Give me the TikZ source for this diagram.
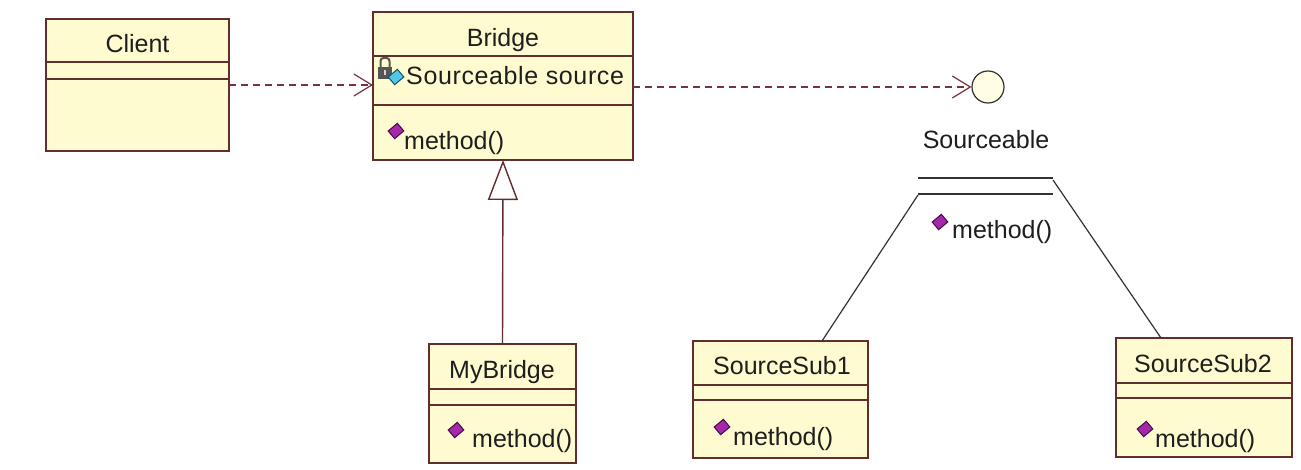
\documentclass[tikz,border=0pt]{standalone}
\usepackage{fontspec}
\setmainfont{Liberation Sans}
\newfontfamily\spacedfont[LetterSpace=2.5]{Liberation Sans}
\usetikzlibrary{arrows.meta}
\definecolor{boxfill}{RGB}{255,251,208}
\definecolor{boxline}{RGB}{100,45,45}
\definecolor{depline}{RGB}{120,50,60}
\definecolor{opfill}{RGB}{165,40,170}
\definecolor{opline}{RGB}{70,10,70}
\definecolor{attrfill}{RGB}{80,200,230}
\definecolor{attrline}{RGB}{20,80,110}
\definecolor{lockgray}{RGB}{85,85,85}
\definecolor{txt}{RGB}{30,30,30}
\definecolor{ifline}{RGB}{50,50,50}
\tikzset{
  cls/.style={draw=boxline, fill=boxfill, line width=1.4pt, inner sep=0pt, outer sep=0pt, anchor=north west},
  sep/.style={draw=boxline, line width=1.4pt},
  lbl/.style={font=\fontsize{25}{30}\selectfont, text=txt, inner sep=0pt, anchor=base},
  oplbl/.style={lbl, anchor=base west},
  dep/.style={draw=depline, line width=1.3pt, dash pattern=on 7pt off 5pt,
    -{Straight Barb[length=18pt,width=22pt,line width=1.2pt]}},
  gen/.style={draw=boxline, line width=1.4pt,
    -{Triangle[open, length=40pt, width=30pt, fill=white, line width=1.4pt]}},
  real/.style={draw=ifline, line width=1.2pt},
  pics/opicon/.style={code={
    \draw[draw=opline, fill=opfill, line width=1pt, rotate=40] (-6,-5) rectangle (6,5);}},
  pics/attricon/.style={code={
    \draw[draw=attrline, fill=attrfill, line width=1pt, rotate=40] (-6,-5) rectangle (6,5);}},
  pics/lockicon/.style={code={
    \draw[lockgray, line width=2pt, rounded corners=3pt] (-4.5,1) -- (-4.5,-9) -- (4.5,-9) -- (4.5,1);
    \fill[lockgray] (-7,0) rectangle (7,12);
    \fill[white!75!lockgray] (-1.2,3) rectangle (1.2,8);}},
}
\begin{document}
\begin{tikzpicture}[x=1pt,y=-1pt]
\useasboundingbox[fill=white] (0,0) rectangle (1301,470);

% class boxes
\node[cls, minimum width=183pt, minimum height=132pt] (client) at (46,19) {};
\node[cls, minimum width=260pt, minimum height=148pt] (bridge) at (373,12) {};
\node[cls, minimum width=147pt, minimum height=119pt] (mybridge) at (429,344) {};
\node[cls, minimum width=175pt, minimum height=117pt] (ss1) at (693,341) {};
\node[cls, minimum width=176pt, minimum height=119pt] (ss2) at (1116,338) {};

% compartments
\draw[sep] (client.west |- 0,62) -- (client.east |- 0,62);
\draw[sep] (client.west |- 0,79) -- (client.east |- 0,79);
\draw[sep] (bridge.west |- 0,56) -- (bridge.east |- 0,56);
\draw[sep] (bridge.west |- 0,105) -- (bridge.east |- 0,105);
\draw[sep] (mybridge.west |- 0,389) -- (mybridge.east |- 0,389);
\draw[sep] (mybridge.west |- 0,405) -- (mybridge.east |- 0,405);
\draw[sep] (ss1.west |- 0,385) -- (ss1.east |- 0,385);
\draw[sep] (ss1.west |- 0,400) -- (ss1.east |- 0,400);
\draw[sep] (ss2.west |- 0,383) -- (ss2.east |- 0,383);
\draw[sep] (ss2.west |- 0,398) -- (ss2.east |- 0,398);

% interface
\node[circle, draw=ifline, fill=boxfill!60!white, line width=1.2pt, minimum size=32pt, inner sep=0pt] (iface) at (988,87) {};
\node[lbl] (ifname) at (986,149) {Sourceable};
\draw[real] (918,178) -- (1053,178);
\draw[real] (918,194) -- (1053,194);
\coordinate (ifL) at (918,195);
\coordinate (ifR) at (1053,180);
\coordinate (ss1top) at (822,341);
\coordinate (ss2top) at (1161,338);
\pic at (940,222) {opicon};
\node[oplbl] (ifop) at (952,239) {method()};

% texts
\node[lbl] (clientname) at (137.5,53) {Client};
\node[lbl] (bridgename) at (503,47) {Bridge};
\pic at (385,67) {lockicon};
\pic at (396,77) {attricon};
\node[oplbl] (bridgeattr) at (406,85) {\spacedfont Sourceable source};
\pic at (396,131) {opicon};
\node[oplbl] (bridgeop) at (404,150) {method()};

\node[lbl] (mybridgename) at (502,378) {MyBridge};
\pic at (456,430) {opicon};
\node[oplbl] (mybridgeop) at (472,447) {method()};

\node[lbl] (ss1name) at (782,374) {SourceSub1};
\pic at (722,427) {opicon};
\node[oplbl] (ss1op) at (733,445) {method()};

\node[lbl] (ss2name) at (1203,372) {SourceSub2};
\pic at (1145,429) {opicon};
\node[oplbl] (ss2op) at (1155,447) {method()};

% connectors
\draw[dep] (client.east) -- (client.east -| bridge.west);
\draw[dep] (bridge.east |- iface.west) -- (iface.west);
\draw[gen] (mybridge.north) -- (bridge.south);
\draw[real] (ifL) -- (ss1top);
\draw[real] (ifR) -- (ss2top);
\end{tikzpicture}
\end{document}
